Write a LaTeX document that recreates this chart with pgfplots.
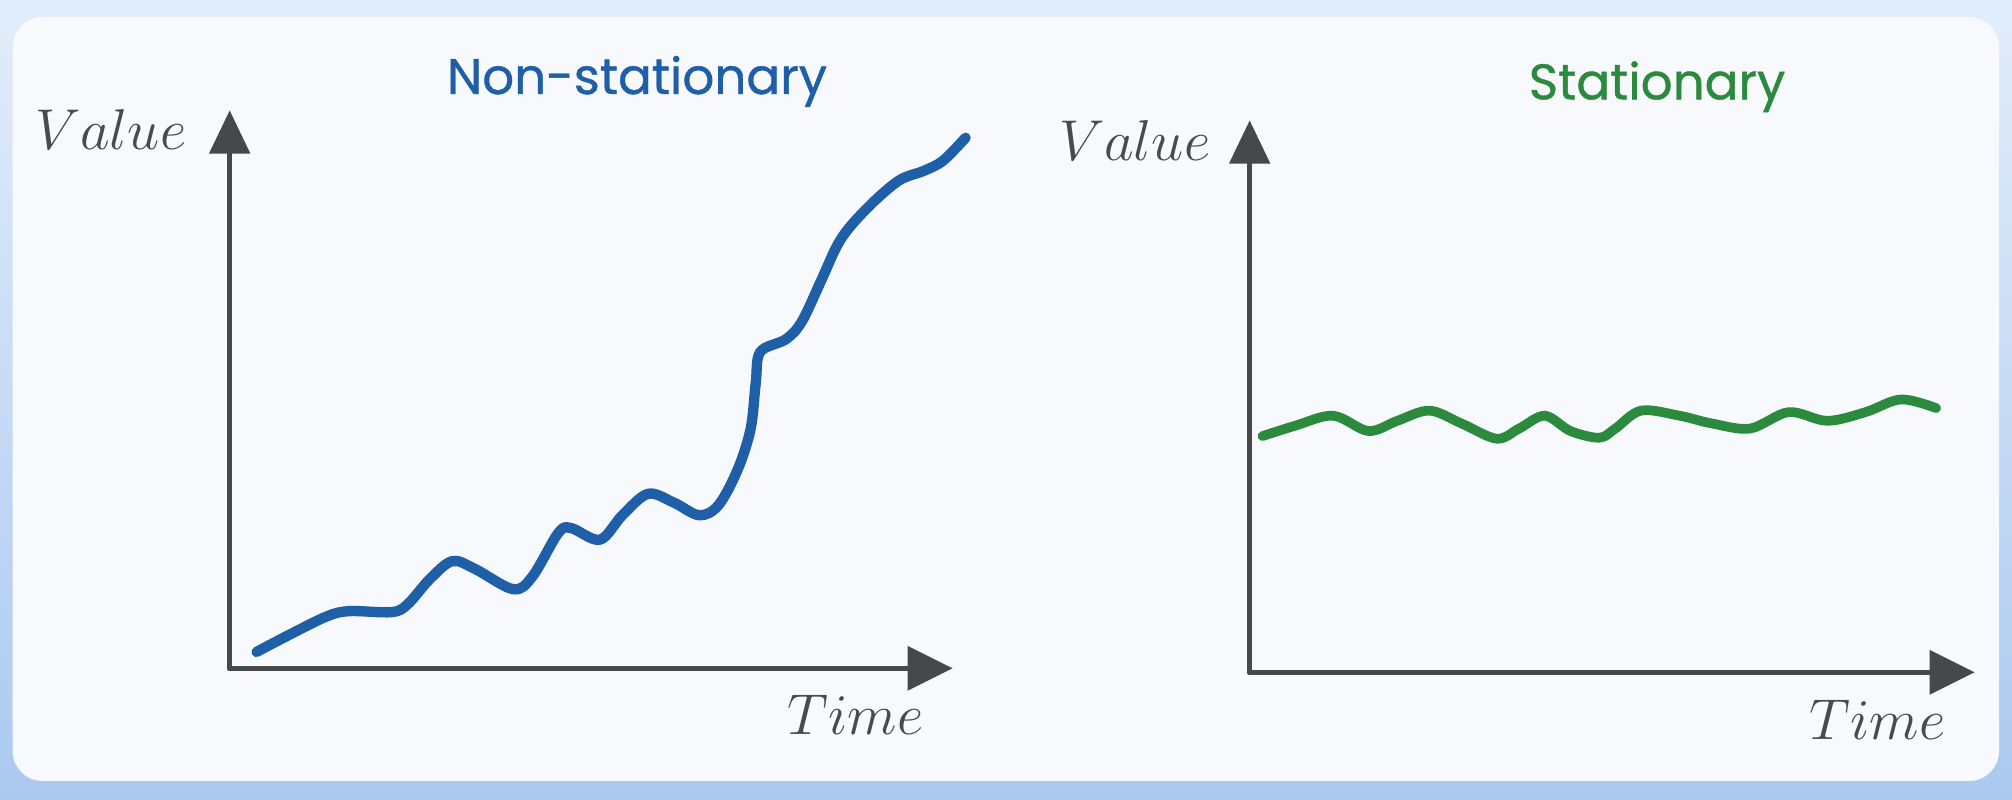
\documentclass[border=0pt]{standalone}
\usepackage{pgfplots}
\pgfplotsset{compat=1.18}
\usepackage{fontspec}
\newfontfamily\titlefont{Poppins}[FakeBold=0.8]
\usetikzlibrary{arrows.meta}
\definecolor{bgtop}{HTML}{E2EDFB}
\definecolor{bgbot}{HTML}{ABC9EF}
\definecolor{card}{HTML}{F7F9FC}
\definecolor{axgray}{HTML}{46484C}
\definecolor{txtgray}{HTML}{4A4A4A}
\definecolor{nsblue}{HTML}{1F5FA8}
\definecolor{stgreen}{HTML}{2B8A3E}

\pgfplotstableread{
x y
26.9 16.4
59.0 33.2
97.5 52.1
120 57.2
161.7 56.2
177.7 63.8
200.2 89.3
222.6 107.2
245.1 99.5
283.6 79.1
302.8 91.9
328.5 135.2
341.3 140.3
370.2 128.6
392.7 153.1
418.3 174.5
444 165.8
469.6 153.1
488.9 163.3
508.1 199
521 239.8
526.1 285.7
530.6 316.4
556.3 329.1
572.3 347
591.5 387.8
610.8 428.6
636.5 459.2
668.5 487.3
694.2 497.5
713.5 507.7
735.9 530.6
}\nonstat

\pgfplotstableread{
x y
12.8 236.2
44.9 246.4
83.4 256.6
118.7 241.3
147.6 251.5
179.7 261.7
211.7 248.9
247 233.6
269.5 243.8
295.1 256.6
320.8 241.3
349.7 234.6
365.7 243.8
391.4 261.7
429.9 256.6
462 248.9
500.5 243.8
539 260.2
577.4 251.5
615.9 260.2
651.2 272.9
686.5 264.2
}\stat

\pgfplotsset{
  sketch/.style={
    x=0.3pt, y=0.3pt,
    anchor=south west,
    axis lines=left,
    xtick=\empty, ytick=\empty,
    xmin=0, ymin=0,
    clip=false,
    axis line style={line width=1.6pt, color=axgray, line cap=round},
    x axis line style={-{Triangle[length=13.5pt,width=13pt]}},
    y axis line style={-{Triangle[length=13pt,width=12pt]}},
  }
}

\begin{document}
\begin{tikzpicture}
\useasboundingbox (0,0) rectangle (603.6pt,240pt);
\shade[top color=bgtop, bottom color=bgbot] (0,0) rectangle (603.6pt,240pt);
\fill[card, rounded corners=9pt] (3.8pt,5.7pt) rectangle (599.7pt,234.9pt);

\begin{axis}[sketch, at={(68.9pt,39.5pt)}, xmax=723, ymax=558]
\addplot[nsblue, line width=3.1pt, smooth, tension=0.55, line cap=round, line join=round] table[x=x,y=y] {\nonstat};
\end{axis}

\begin{axis}[sketch, at={(374.9pt,38.3pt)}, xmax=725, ymax=552]
\addplot[stgreen, line width=2.9pt, smooth, tension=0.55, line cap=round, line join=round] table[x=x,y=y] {\stat};
\end{axis}

\node[anchor=base east, text=txtgray, inner sep=0pt, font=\fontsize{17}{20}\selectfont] at (56.1pt,195pt) {$Value$};
\node[anchor=base east, text=txtgray, inner sep=0pt, font=\fontsize{17}{20}\selectfont] at (363.3pt,191.7pt) {$Value$};
\node[anchor=base east, text=txtgray, inner sep=0pt, font=\fontsize{17}{20}\selectfont] at (277.2pt,19.5pt) {$Time$};
\node[anchor=base east, text=txtgray, inner sep=0pt, font=\fontsize{17}{20}\selectfont] at (583.8pt,18pt) {$Time$};

\node[anchor=base, text=nsblue, inner sep=0pt, font=\titlefont\fontsize{15}{18}\selectfont] at (191.1pt,211.8pt) {Non-stationary};
\node[anchor=base, text=stgreen, inner sep=0pt, font=\titlefont\fontsize{15}{18}\selectfont] at (497.1pt,210.2pt) {Stationary};
\end{tikzpicture}
\end{document}
